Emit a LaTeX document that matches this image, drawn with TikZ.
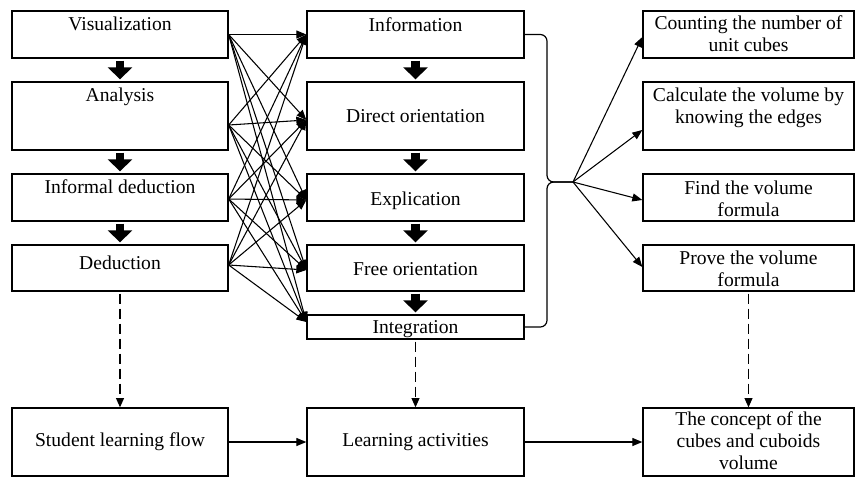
\documentclass[tikz,border=0pt]{standalone}
\usepackage{fontspec}
\setmainfont{Liberation Serif}
\usepackage{tikz}
\usetikzlibrary{arrows.meta,calc}

\tikzset{
box/.style={draw, line width=1pt, inner sep=0pt},
lowbox/.style={box, minimum height=35.25pt},
highbox/.style={box, minimum height=51pt},
txt/.style={font=\fontsize{14.7}{16.5}\selectfont, align=center, inner sep=0pt},
fatarrow/.style={line width=6.5pt, -{Triangle[width=18pt,length=9pt]}, shorten <=1.5pt, shorten >=1.5pt},
link/.style={line width=0.8pt, -{Triangle[width=6pt,length=7.5pt]}},
dlink/.style={line width=0.9pt, dash pattern=on 7.5pt off 3.75pt, -{Triangle[width=6pt,length=7pt]}, shorten <=1.5pt}
}

\begin{document}
\begin{tikzpicture}[x=0.75pt,y=0.75pt,yscale=-1]
\useasboundingbox (0,0) rectangle (856,483);

%Shape: Rectangle (levels)
\node [lowbox, minimum width=162pt] (vis) at (120,34.5) {};
\node [highbox, minimum width=162pt] (ana) at (120,116) {};
\node [lowbox, minimum width=162pt] (inf) at (120,197.5) {};
\node [box, minimum width=162pt, minimum height=34.5pt] (ded) at (120,268) {};

%Shape: Rectangle (phases)
\node [lowbox, minimum width=162.75pt] (info) at (415.5,34.5) {};
\node [highbox, minimum width=162.75pt] (dir) at (415.5,116) {};
\node [lowbox, minimum width=162.75pt] (expl) at (415.5,197.5) {};
\node [box, minimum width=162.75pt, minimum height=34.5pt] (free) at (415.5,268) {};
\node [box, minimum width=162.75pt, minimum height=18pt] (integ) at (415.5,327) {};

%Shape: Rectangle (activities)
\node [lowbox, minimum width=158.25pt] (cnt) at (748.5,34.5) {};
\node [highbox, minimum width=158.25pt] (cvol) at (748.5,116) {};
\node [lowbox, minimum width=158.25pt] (fvol) at (748.5,197.5) {};
\node [box, minimum width=158.25pt, minimum height=34.5pt] (pvol) at (748.5,268) {};

%Shape: Rectangle (bottom row)
\node [highbox, minimum width=162pt] (stud) at (120,442) {};
\node [highbox, minimum width=162.75pt] (learn) at (415.5,442) {};
\node [highbox, minimum width=158.25pt] (conc) at (748.5,442) {};

%Block Arrows
\draw [fatarrow] (vis.south) -- (ana.north) ;
\draw [fatarrow] (ana.south) -- (inf.north) ;
\draw [fatarrow] (inf.south) -- (ded.north) ;
\draw [fatarrow] (info.south) -- (dir.north) ;
\draw [fatarrow] (dir.south) -- (expl.north) ;
\draw [fatarrow] (expl.south) -- (free.north) ;
\draw [fatarrow] (free.south) -- (integ.north) ;

%Ports for the crossing lines
\coordinate (visR) at (vis.east) ;
\coordinate (anaR) at ($(ana.east)+(0,9)$) ;
\coordinate (infR) at ($(inf.east)+(0,1.5)$) ;
\coordinate (dedR) at ($(ded.east)+(0,-3)$) ;
\coordinate (infoL) at (info.west) ;
\coordinate (dirL) at ($(dir.west)+(0,4)$) ;
\coordinate (explL) at ($(expl.west)+(0,2.5)$) ;
\coordinate (freeL) at ($(free.west)+(0,2)$) ;
\coordinate (integL) at ($(integ.west)+(0,-5)$) ;

%Straight Lines
\draw [link] (visR) -- (infoL) ;
\draw [link] (visR) -- (dirL) ;
\draw [link] (visR) -- (explL) ;
\draw [link] (visR) -- (freeL) ;
\draw [link] (visR) -- (integL) ;
\draw [link] (anaR) -- (infoL) ;
\draw [link] (anaR) -- (dirL) ;
\draw [link] (anaR) -- (explL) ;
\draw [link] (anaR) -- (freeL) ;
\draw [link] (anaR) -- (integL) ;
\draw [link] (infR) -- (infoL) ;
\draw [link] (infR) -- (dirL) ;
\draw [link] (infR) -- (explL) ;
\draw [link] (infR) -- (freeL) ;
\draw [link] (infR) -- (integL) ;
\draw [link] (dedR) -- (infoL) ;
\draw [link] (dedR) -- (dirL) ;
\draw [link] (dedR) -- (explL) ;
\draw [link] (dedR) -- (freeL) ;
\draw [link] (dedR) -- (integL) ;

%Brace
\coordinate (brc) at (547,182) ;
\coordinate (fan) at (573,182) ;
\draw [line width=0.9pt, rounded corners=5pt] (info.east) -| (brc) -- (fan) ;
\draw [line width=0.9pt, rounded corners=5pt] (integ.east) -| (brc) -- (fan) ;

%Straight Lines (fan)
\draw [link] (fan) -- ($(cnt.west)+(0,2.5)$) ;
\draw [link] (fan) -- ($(cvol.west)+(0,14)$) ;
\draw [link] (fan) -- ($(fvol.west)+(0,2.5)$) ;
\draw [link] (fan) -- ($(pvol.west)+(0,-1)$) ;

%Dashed Lines
\draw [dlink] (ded.south) -- (stud.north) ;
\draw [dlink] (integ.south) -- (learn.north) ;
\draw [dlink] (pvol.south) -- (conc.north) ;

%Straight Lines (bottom)
\draw [link, line width=0.9pt] (stud.east) -- (learn.west) ;
\draw [link, line width=0.9pt] (learn.east) -- (conc.west) ;

% Text Node
\node [txt] (visT) at (120,24) {Visualization};
% Text Node
\node [txt] (anaT) at (120,97) {Analysis};
% Text Node
\node [txt] (infT) at (120,186.5) {Informal deduction};
% Text Node
\node [txt] (dedT) at (120,262.5) {Deduction};
% Text Node
\node [txt] (infoT) at (415.5,24.5) {Information};
% Text Node
\node [txt] (dirT) at (415.5,116.5) {Direct orientation};
% Text Node
\node [txt] (explT) at (415.5,200.5) {Explication};
% Text Node
\node [txt] (freeT) at (415.5,269.5) {Free orientation};
% Text Node
\node [txt] (integT) at (415.5,329) {Integration};
% Text Node
\node [txt] (cntT) at (748.5,34) {Counting the number of\\unit cubes};
% Text Node
\node [txt] (cvolT) at (748.5,107.5) {Calculate the volume by\\knowing the edges};
% Text Node
\node [txt] (fvolT) at (748.5,198.5) {Find the volume\\formula};
% Text Node
\node [txt] (pvolT) at (748.5,269) {Prove the volume\\formula};
% Text Node
\node [txt] (studT) at (120,442) {Student learning flow};
% Text Node
\node [txt] (learnT) at (415.5,442) {Learning activities};
% Text Node
\node [txt] (concT) at (748.5,441) {The concept of the\\cubes and cuboids\\volume};

\end{tikzpicture}
\end{document}
